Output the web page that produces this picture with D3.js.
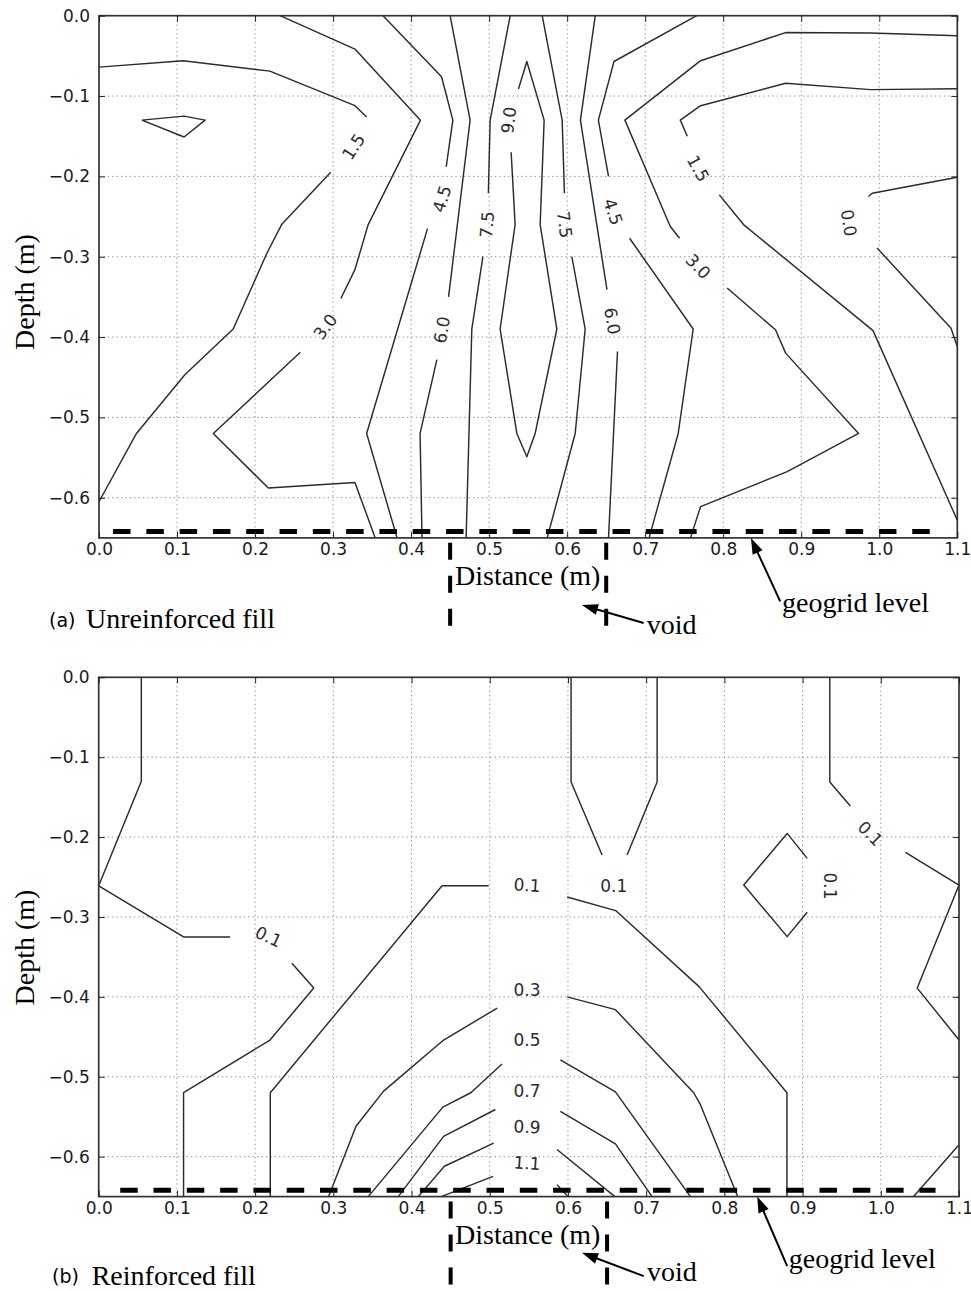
<!DOCTYPE html>
<html>
<head>
<meta charset="utf-8">
<script src="https://cdn.jsdelivr.net/npm/d3@7"></script>
<style>
  html, body { margin: 0; padding: 0; background: #fff; }
  svg { display: block; }
</style>
</head>
<body>
<svg id="fig" width="971" height="1291"></svg>
<script>
// ---------- shared axis ticks ----------
const distanceTicks = [0.0, 0.1, 0.2, 0.3, 0.4, 0.5, 0.6, 0.7, 0.8, 0.9, 1.0, 1.1];
const depthTicks = [0.0, -0.1, -0.2, -0.3, -0.4, -0.5, -0.6];

// ---------- (a) Unreinforced fill: contour pieces, points are [distance (m), depth (m)] ----------
const unrLevels = [0.0, 1.5, 3.0, 4.5, 6.0, 7.5, 9.0];

const unr_0_0 = [
  [[1.1, -0.201], [0.991, -0.221], [0.986, -0.225]],
  [[0.997, -0.289], [1.092, -0.389], [1.1, -0.412]]
];
const unr_1_5 = [
  [[0, -0.064], [0.108, -0.056], [0.219, -0.069], [0.328, -0.112], [0.343, -0.126]],
  [[0.297, -0.195], [0.234, -0.26], [0.215, -0.296], [0.172, -0.39], [0.11, -0.447], [0.048, -0.52], [0, -0.605]],
  [[0.055, -0.13], [0.109, -0.125], [0.136, -0.13], [0.109, -0.151], [0.055, -0.13]],
  [[1.1, -0.091], [0.989, -0.092], [0.88, -0.084], [0.771, -0.112], [0.745, -0.13], [0.754, -0.15]],
  [[0.795, -0.223], [0.826, -0.26], [0.992, -0.392], [1.1, -0.628]]
];
const unr_3_0 = [
  [[0.232, 0], [0.328, -0.0415], [0.412, -0.13], [0.345, -0.26], [0.328, -0.316], [0.31, -0.352]],
  [[0.258, -0.419], [0.1465, -0.52], [0.217, -0.588], [0.328, -0.581], [0.354, -0.65]],
  [[1.1, -0.025], [0.989, -0.0215], [0.88, -0.021], [0.771, -0.056], [0.674, -0.13], [0.732, -0.262], [0.744, -0.277]],
  [[0.805, -0.339], [0.867, -0.391], [0.88, -0.42], [0.9735, -0.52], [0.882, -0.5675], [0.771, -0.611], [0.758, -0.65]]
];
const unr_4_5 = [
  [[0.364, 0], [0.439, -0.076], [0.4535, -0.13], [0.445, -0.188]],
  [[0.421, -0.265], [0.343, -0.52], [0.382, -0.65]],
  [[0.766, 0], [0.66, -0.057], [0.64, -0.13], [0.653, -0.2]],
  [[0.68, -0.277], [0.7615, -0.39], [0.7423, -0.52], [0.705, -0.65]]
];
const unr_6_0 = [
  [[0.45, 0], [0.4756, -0.13], [0.448, -0.35]],
  [[0.433, -0.428], [0.4115, -0.52], [0.414, -0.65]],
  [[0.636, 0], [0.617, -0.13], [0.651, -0.341]],
  [[0.6645, -0.418], [0.653, -0.65]]
];
const unr_7_5 = [
  [[0.527, 0], [0.5013, -0.13], [0.499, -0.221]],
  [[0.492, -0.3], [0.4778, -0.39], [0.4705, -0.65]],
  [[0.568, 0], [0.5936, -0.13], [0.5965, -0.221]],
  [[0.606, -0.3], [0.6231, -0.39], [0.6103, -0.52], [0.5744, -0.65]]
];
const unr_9_0 = [
  [[0.5376, -0.0913], [0.5483, -0.057], [0.5705, -0.13], [0.5654, -0.26], [0.5868, -0.39], [0.559, -0.52],
   [0.5483, -0.549], [0.5355, -0.52], [0.5141, -0.39], [0.5333, -0.26], [0.5282, -0.17]]
];
const unrLines = [unr_0_0, unr_1_5, unr_3_0, unr_4_5, unr_6_0, unr_7_5, unr_9_0];

// inline labels: [level, distance, depth]
const unrLabels = [
  [0.0, 0.961, -0.258],
  [1.5, 0.326, -0.163], [1.5, 0.768, -0.19],
  [3.0, 0.29, -0.387], [3.0, 0.768, -0.312],
  [4.5, 0.4394, -0.228], [4.5, 0.659, -0.244],
  [6.0, 0.4394, -0.391], [6.0, 0.658, -0.38],
  [7.5, 0.497, -0.26], [7.5, 0.597, -0.26],
  [9.0, 0.525, -0.13]
];
const unrLabelAngles = [81, -57, 61, -53, 46, -73, 71, -80, 80, -85, 83, -83];

// ---------- (b) Reinforced fill ----------
const reiLevels = [0.1, 0.3, 0.5, 0.7, 0.9, 1.1];

const rei_0_1 = [
  [[0.0545, 0], [0.0545, -0.13], [0, -0.261], [0.1085, -0.325], [0.168, -0.325]],
  [[0.247, -0.358], [0.275, -0.389], [0.219, -0.454], [0.1085, -0.52], [0.1085, -0.65]],
  [[0.2194, -0.65], [0.2194, -0.52], [0.439, -0.261], [0.4986, -0.261]],
  [[0.599, -0.275], [0.661, -0.292], [0.768, -0.3875], [0.88, -0.52], [0.88, -0.65]],
  [[0.604, 0], [0.604, -0.131], [0.6436, -0.2225]],
  [[0.714, 0], [0.714, -0.131], [0.6756, -0.2225]],
  [[0.9348, 0], [0.9348, -0.131], [0.961, -0.161]],
  [[1.0316, -0.219], [1.1, -0.26], [1.0466, -0.389], [1.1, -0.454]],
  [[0.9059, -0.2266], [0.8803, -0.1954], [0.8248, -0.26], [0.8803, -0.3246], [0.9059, -0.294]],
  [[1.042, -0.65], [1.1, -0.585]]
];
const rei_0_3 = [
  [[0.5096, -0.414], [0.441, -0.454], [0.3643, -0.518], [0.329, -0.562], [0.294, -0.65]],
  [[0.599, -0.4], [0.6607, -0.416], [0.7608, -0.52], [0.7694, -0.535], [0.817, -0.65]]
];
const rei_0_5 = [
  [[0.5157, -0.484], [0.4758, -0.52], [0.44, -0.538], [0.3447, -0.65]],
  [[0.5903, -0.479], [0.6607, -0.519], [0.7566, -0.65]]
];
const rei_0_7 = [
  [[0.5072, -0.541], [0.441, -0.5746], [0.383, -0.65]],
  [[0.5903, -0.5434], [0.6607, -0.584], [0.7076, -0.65]]
];
const rei_0_9 = [
  [[0.505, -0.583], [0.442, -0.612], [0.4087, -0.65]],
  [[0.586, -0.591], [0.66, -0.65]]
];
const rei_1_1 = [
  [[0.5042, -0.6246], [0.438, -0.65]],
  [[0.586, -0.635], [0.6, -0.65]]
];
const reiLines = [rei_0_1, rei_0_3, rei_0_5, rei_0_7, rei_0_9, rei_1_1];

const reiLabels = [
  [0.1, 0.2172, -0.3246], [0.1, 0.5477, -0.26], [0.1, 0.6585, -0.2613],
  [0.1, 0.9357, -0.2613], [0.1, 0.9868, -0.1954],
  [0.3, 0.5477, -0.391], [0.5, 0.5477, -0.454], [0.7, 0.5477, -0.518],
  [0.9, 0.5477, -0.5625], [1.1, 0.5477, -0.608]
];
const reiLabelAngles = [25, 4, 0, 90, 45, 0, 0, 0, 2, 4];

// ---------- annotations (data units) ----------
const geogridDepth = -0.642;
const voidEdges = [0.45, 0.65];
const voidDashDepths = [-0.656, -0.76];

// ---------- layout ----------
const panels = [
  {
    frame: { top: 15.7, bottom: 537.9, left: 99, right: 957.3 },
    lines: unrLines, labels: unrLabels, angles: unrLabelAngles,
    geogridSpan: [0.018, 1.065],
    voidArrow: { from: [0.698, -0.756], to: [0.619, -0.7335] },
    gridArrow: { from: [0.873, -0.729], to: [0.8355, -0.65] },
    voidText: [0.702, -0.769], gridText: [0.8753, -0.742],
    tag: "(a)", title: "Unreinforced fill",
    tagPos: [49, 627], titlePos: [86, 628], ylabelY: 292
  },
  {
    frame: { top: 677.3, bottom: 1196.6, left: 98.7, right: 959 },
    lines: reiLines, labels: reiLabels, angles: reiLabelAngles,
    geogridSpan: [0.0275, 1.07],
    voidArrow: { from: [0.697, -0.7496], to: [0.618, -0.7204] },
    gridArrow: { from: [0.8803, -0.737], to: [0.842, -0.65] },
    voidText: [0.701, -0.756], gridText: [0.8823, -0.739],
    tag: "(b)", title: "Reinforced fill",
    tagPos: [52, 1283], titlePos: [91.7, 1285], ylabelY: 947.5
  }
];

const svg = d3.select("#fig");
const fmt = d3.format(".1f");
const SANS = "'DejaVu Sans', Verdana, sans-serif";
const SERIF = "'Liberation Serif', 'Times New Roman', serif";

function arrow(g, x, y, a) {
  const x1 = x(a.from[0]), y1 = y(a.from[1]);
  const x2 = x(a.to[0]), y2 = y(a.to[1]);
  const dx = x2 - x1, dy = y2 - y1, len = Math.hypot(dx, dy);
  const ux = dx / len, uy = dy / len;
  const head = 16, half = 5.5;
  const bx = x2 - ux * head, by = y2 - uy * head;
  g.append("line").attr("x1", x1).attr("y1", y1).attr("x2", bx + ux * 2).attr("y2", by + uy * 2)
    .attr("stroke", "#000").attr("stroke-width", 2);
  g.append("path")
    .attr("d", `M${x2},${y2}L${bx - uy * half},${by + ux * half}L${bx + uy * half},${by - ux * half}Z`)
    .attr("fill", "#000");
}

panels.forEach(p => {
  const f = p.frame;
  const x = d3.scaleLinear().domain([0, 1.1]).range([f.left, f.right]);
  const y = d3.scaleLinear().domain([0, -0.65]).range([f.top, f.bottom]);
  const g = svg.append("g");

  // dotted grid
  g.append("g").selectAll("line").data(distanceTicks.slice(1, -1)).join("line")
    .attr("x1", d => x(d)).attr("x2", d => x(d)).attr("y1", f.top).attr("y2", f.bottom)
    .attr("stroke", "#8c8c8c").attr("stroke-width", 1).attr("stroke-dasharray", "1.3,3.1");
  g.append("g").selectAll("line").data(depthTicks.slice(1)).join("line")
    .attr("y1", d => y(d)).attr("y2", d => y(d)).attr("x1", f.left).attr("x2", f.right)
    .attr("stroke", "#8c8c8c").attr("stroke-width", 1).attr("stroke-dasharray", "1.3,3.1");

  // contour lines
  const line = d3.line().x(d => x(d[0])).y(d => y(d[1]));
  const cg = g.append("g").attr("fill", "none").attr("stroke", "#2b2b2b").attr("stroke-width", 1.45)
    .attr("stroke-linejoin", "round");
  p.lines.forEach(pieces => pieces.forEach(pc => cg.append("path").attr("d", line(pc))));

  // inline contour labels
  g.append("g").selectAll("text").data(p.labels).join("text")
    .attr("transform", (d, i) => `translate(${x(d[1])},${y(d[2])}) rotate(${p.angles[i]})`)
    .attr("text-anchor", "middle").attr("dy", "0.36em")
    .attr("font-family", SANS).attr("font-size", 17).attr("fill", "#2b2b2b")
    .text(d => fmt(d[0]));

  // geogrid level
  g.append("line")
    .attr("x1", x(p.geogridSpan[0])).attr("x2", x(p.geogridSpan[1]))
    .attr("y1", y(geogridDepth)).attr("y2", y(geogridDepth))
    .attr("stroke", "#000").attr("stroke-width", 5).attr("stroke-dasharray", "17.5,15.8");

  // void edges below the axis
  g.append("g").selectAll("line").data(voidEdges).join("line")
    .attr("x1", d => x(d)).attr("x2", d => x(d))
    .attr("y1", y(voidDashDepths[0])).attr("y2", y(voidDashDepths[1]))
    .attr("stroke", "#000").attr("stroke-width", 4).attr("stroke-dasharray", "17,16");

  // frame
  g.append("rect").attr("x", f.left).attr("y", f.top)
    .attr("width", f.right - f.left).attr("height", f.bottom - f.top)
    .attr("fill", "none").attr("stroke", "#333").attr("stroke-width", 1.7);

  // axes with inward ticks on all sides
  const styleAxis = sel => {
    sel.select(".domain").remove();
    sel.selectAll(".tick line").attr("stroke", "#222").attr("stroke-width", 1);
    sel.selectAll(".tick text").attr("font-family", SANS).attr("font-size", 17).attr("fill", "#1a1a1a");
  };
  g.append("g").attr("transform", `translate(0,${f.bottom})`)
    .call(d3.axisBottom(x).tickValues(distanceTicks).tickFormat(fmt).tickSizeInner(-6).tickSizeOuter(0).tickPadding(5.5))
    .call(styleAxis);
  g.append("g").attr("transform", `translate(0,${f.top})`)
    .call(d3.axisTop(x).tickValues(distanceTicks).tickFormat("").tickSizeInner(-6).tickSizeOuter(0))
    .call(styleAxis);
  g.append("g").attr("transform", `translate(${f.left},0)`)
    .call(d3.axisLeft(y).tickValues(depthTicks).tickFormat(fmt).tickSizeInner(-6).tickSizeOuter(0).tickPadding(9))
    .call(styleAxis);
  g.append("g").attr("transform", `translate(${f.right},0)`)
    .call(d3.axisRight(y).tickValues(depthTicks).tickFormat("").tickSizeInner(-6).tickSizeOuter(0))
    .call(styleAxis);

  // axis titles
  g.append("text").attr("x", 455).attr("y", f.bottom + 47)
    .attr("font-family", SERIF).attr("font-size", 28).attr("fill", "#000").text("Distance (m)");
  g.append("text").attr("transform", `translate(33.5,${p.ylabelY}) rotate(-90)`)
    .attr("text-anchor", "middle")
    .attr("font-family", SERIF).attr("font-size", 28).attr("fill", "#000").text("Depth (m)");

  // panel caption
  g.append("text").attr("x", p.tagPos[0]).attr("y", p.tagPos[1])
    .attr("font-family", SANS).attr("font-size", 19).attr("fill", "#000").text(p.tag);
  g.append("text").attr("x", p.titlePos[0]).attr("y", p.titlePos[1])
    .attr("font-family", SERIF).attr("font-size", 28).attr("fill", "#000").text(p.title);

  // annotations
  arrow(g, x, y, p.voidArrow);
  arrow(g, x, y, p.gridArrow);
  g.append("text").attr("x", x(p.voidText[0])).attr("y", y(p.voidText[1]))
    .attr("font-family", SERIF).attr("font-size", 28).attr("fill", "#000").text("void");
  g.append("text").attr("x", x(p.gridText[0])).attr("y", y(p.gridText[1]))
    .attr("font-family", SERIF).attr("font-size", 28).attr("fill", "#000").text("geogrid level");
});
</script>
</body>
</html>
